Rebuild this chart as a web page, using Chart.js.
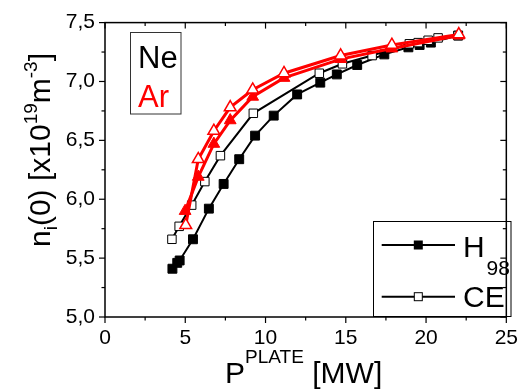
<!DOCTYPE html>
<html><head><meta charset="utf-8">
<script src="https://cdn.jsdelivr.net/npm/chart.js@4/dist/chart.umd.min.js"></script>
<style>html,body{margin:0;padding:0;background:#fff;}#wrap{width:527px;height:392px;}</style>
</head><body><div id="wrap"><canvas id="c" width="527" height="392"></canvas></div>
<script>
// ---- data ----
const h98X = [4.2, 4.5, 4.65, 5.48, 6.47, 7.39, 8.36, 9.35, 10.51, 11.97, 13.41, 14.44, 15.71, 17.4, 18.9, 19.6, 20.3, 22.0];
const h98Y = [5.41, 5.46, 5.48, 5.66, 5.92, 6.13, 6.34, 6.54, 6.71, 6.89, 6.99, 7.06, 7.14, 7.23, 7.29, 7.31, 7.33, 7.39];
const ceX = [4.17, 4.62, 5.40, 6.22, 7.19, 9.24, 13.35, 14.79, 16.64, 18.96, 19.51, 20.13, 20.75, 22.0];
const ceY = [5.66, 5.77, 5.95, 6.15, 6.37, 6.73, 7.07, 7.15, 7.22, 7.32, 7.33, 7.35, 7.37, 7.39];
const arFilledX = [4.99, 5.81, 6.78, 7.80, 9.20, 11.15, 14.68, 17.87, 22.04];
const arFilledY = [5.90, 6.19, 6.47, 6.67, 6.87, 7.03, 7.19, 7.28, 7.39];
const arOpenX = [5.03, 5.81, 6.78, 7.80, 9.20, 11.15, 14.68, 17.87, 22.04];
const arOpenY = [5.78, 6.34, 6.58, 6.78, 6.93, 7.07, 7.22, 7.31, 7.40];
const xTicks = [0, 5, 10, 15, 20, 25];
const yTicks = [5.0, 5.5, 6.0, 6.5, 7.0, 7.5];

const pts = (xs, ys) => xs.map((x, i) => ({x: x, y: ys[i]}));
const FONT = '"Liberation Sans", Arial, Helvetica, sans-serif';

function line(ctx, x1, y1, x2, y2){ ctx.beginPath(); ctx.moveTo(x1,y1); ctx.lineTo(x2,y2); ctx.stroke(); }
function runs(ctx, x, y, parts){
  let cx = x;
  for (const p of parts){
    ctx.font = p[1] + 'px ' + FONT;
    ctx.fillStyle = p[3] || '#000';
    ctx.fillText(p[0], cx, y + p[2]);
    cx += ctx.measureText(p[0]).width;
  }
  return cx - x;
}
function runsWidth(ctx, parts){
  let w = 0;
  for (const p of parts){ ctx.font = p[1] + 'px ' + FONT; w += ctx.measureText(p[0]).width; }
  return w;
}

const decor = {
  id: 'decor',
  afterDraw(chart){
    const ctx = chart.ctx, a = chart.chartArea, xs = chart.scales.x, ys = chart.scales.y;
    ctx.save();
    ctx.strokeStyle = '#000';
    ctx.lineWidth = 1.5;
    ctx.strokeRect(a.left, a.top, a.right - a.left, a.bottom - a.top);
    ctx.lineWidth = 1.2;
    for (let k = 0; k <= 10; k++){
      const v = k * 2.5, px = xs.getPixelForValue(v), L = (k % 2 === 0) ? 6 : 3.5;
      line(ctx, px, a.bottom, px, a.bottom + L);
      line(ctx, px, a.top, px, a.top + L);
    }
    for (let k = 0; k <= 10; k++){
      const v = 5 + k * 0.25, py = ys.getPixelForValue(v), L = (k % 2 === 0) ? 6 : 3.5;
      line(ctx, a.left - L, py, a.left, py);
      line(ctx, a.right - L, py, a.right, py);
    }
    ctx.textBaseline = 'alphabetic';
    ctx.textAlign = 'left';
    const xt = [['P', 30, 0], ['PLATE', 19, -20], [' [MW]', 30, 0]];
    const xw = runsWidth(ctx, xt);
    runs(ctx, (a.left + a.right) / 2 - xw / 2 - 2, 383, xt);
    const yt = [['n', 30, 0], ['i', 19, 7], ['(0) [x10', 30, 0], ['19', 19, -13], ['m', 30, 0], ['-3', 19, -13], [']', 30, 0]];
    const yw = runsWidth(ctx, yt);
    ctx.save();
    ctx.translate(50, 150);
    ctx.rotate(-Math.PI / 2);
    runs(ctx, -yw / 2, 0, yt);
    ctx.restore();
    ctx.lineWidth = 1;
    ctx.strokeStyle = '#333';
    ctx.strokeRect(130.5, 32.5, 50.5, 81.5);
    runs(ctx, 138, 68, [['Ne', 31, 0, '#000']]);
    runs(ctx, 138, 106.5, [['Ar', 31, 0, '#ff0000']]);
    ctx.strokeStyle = '#000';
    ctx.strokeRect(373.5, 221.5, 137.5, 95);
    ctx.lineWidth = 2;
    line(ctx, 381.7, 245, 455, 245);
    line(ctx, 381.7, 296.7, 455, 296.7);
    ctx.fillStyle = '#000';
    ctx.fillRect(418.3 - 4.5, 245 - 4.5, 9, 9);
    ctx.fillStyle = '#fff';
    ctx.fillRect(418.3 - 4, 296.7 - 4, 8, 8);
    ctx.lineWidth = 1;
    ctx.strokeRect(418.3 - 4, 296.7 - 4, 8, 8);
    runs(ctx, 463, 256.7, [['H', 30, 0]]);
    runs(ctx, 486.5, 275, [['98', 21, 0]]);
    runs(ctx, 463, 306.7, [['CE', 30, 0]]);
    ctx.restore();
  }
};

new Chart(document.getElementById('c'), {
  type: 'scatter',
  data: {
    datasets: [
      { label: 'Ar open', data: pts(arOpenX, arOpenY), showLine: true, borderColor: '#ff0000', borderWidth: 3,
        pointStyle: 'triangle', pointRadius: 6.8, pointBackgroundColor: '#fff', pointBorderColor: '#ff0000', pointBorderWidth: 1.5 },
      { label: 'Ar filled', data: pts(arFilledX, arFilledY), showLine: true, borderColor: '#ff0000', borderWidth: 3,
        pointStyle: 'triangle', pointRadius: 6.8, pointBackgroundColor: '#ff0000', pointBorderColor: '#ff0000', pointBorderWidth: 1 },
      { label: 'CE', data: pts(ceX, ceY), showLine: true, borderColor: '#000', borderWidth: 2,
        pointStyle: 'rect', pointRadius: 6, pointBackgroundColor: '#fff', pointBorderColor: '#000', pointBorderWidth: 1 },
      { label: 'H98', data: pts(h98X, h98Y), showLine: true, borderColor: '#000', borderWidth: 2,
        pointStyle: 'rect', pointRadius: 6.3, pointBackgroundColor: '#000', pointBorderColor: '#000', pointBorderWidth: 1 }
    ]
  },
  options: {
    responsive: false,
    animation: false,
    devicePixelRatio: 1,
    layout: { padding: { left: 0, right: 16, top: 18, bottom: 0 } },
    plugins: { legend: { display: false }, tooltip: { enabled: false } },
    scales: {
      x: {
        type: 'linear', min: 0, max: 25,
        afterBuildTicks: s => { s.ticks = xTicks.map(v => ({value: v})); },
        afterFit: s => { s.height = 75; },
        grid: { display: false, drawTicks: false },
        border: { display: false },
        ticks: { color: '#000', font: { family: FONT, size: 21 }, padding: 9, callback: v => String(v), maxRotation: 0 }
      },
      y: {
        type: 'linear', min: 5, max: 7.5,
        afterBuildTicks: s => { s.ticks = yTicks.map(v => ({value: v})); },
        afterFit: s => { s.width = 105; },
        grid: { display: false, drawTicks: false },
        border: { display: false },
        ticks: { color: '#000', font: { family: FONT, size: 21 }, padding: 10, callback: v => Number(v).toFixed(1).replace('.', ',') }
      }
    }
  },
  plugins: [decor]
});
</script>
</body></html>
